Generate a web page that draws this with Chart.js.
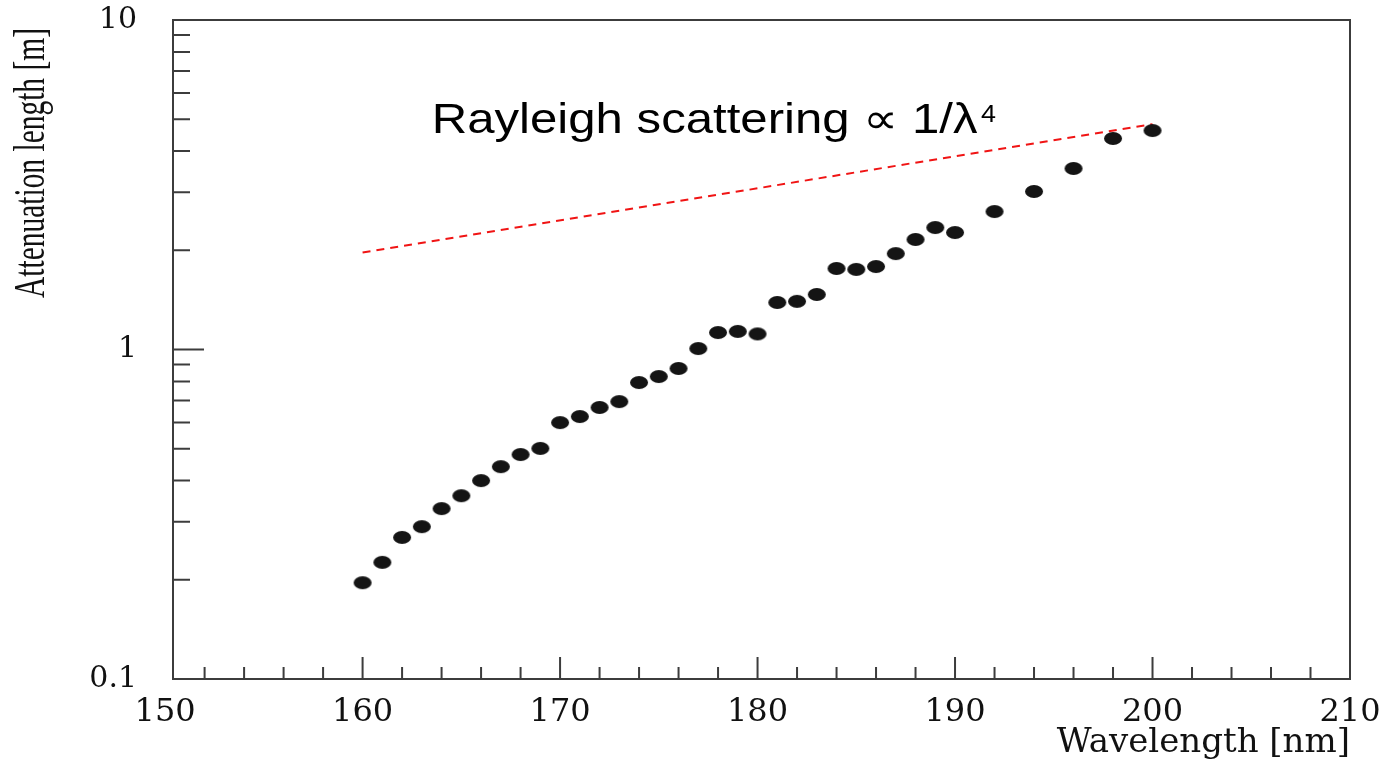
<!DOCTYPE html>
<html>
<head>
<meta charset="utf-8">
<script src="https://cdn.jsdelivr.net/npm/chart.js@4.4.1/dist/chart.umd.min.js"></script>
<style>
  html, body { margin: 0; padding: 0; background: #fff; }
  #wrap { width: 1384px; height: 760px; }
</style>
</head>
<body>
<div id="wrap"><canvas id="chart"></canvas></div>
<script>
// measured points (wavelength in nm, attenuation length in m)
const wavelengths = [160, 161, 162, 163, 164, 165, 166, 167, 168, 169,
  170, 171, 172, 173, 174, 175, 176, 177, 178, 179,
  180, 181, 182, 183, 184, 185, 186, 187, 188, 189,
  190, 192, 194, 196, 198, 200];
const attenuation = [0.196, 0.226, 0.269, 0.290, 0.329, 0.360, 0.400, 0.441, 0.480, 0.501,
  0.600, 0.626, 0.667, 0.695, 0.794, 0.828, 0.876, 1.007, 1.126, 1.135,
  1.115, 1.389, 1.400, 1.469, 1.762, 1.750, 1.786, 1.955, 2.157, 2.345,
  2.265, 2.623, 3.017, 3.543, 4.370, 4.620];

// Rayleigh 1/lambda^4 guide line
const rayleigh_x = [160, 200];
const rayleigh_y = [1.97, 4.83];

// axes
const x_ticks = [150, 152, 154, 156, 158, 160, 162, 164, 166, 168, 170, 172, 174, 176, 178, 180,
  182, 184, 186, 188, 190, 192, 194, 196, 198, 200, 202, 204, 206, 208, 210];
const x_labels = [150, 160, 170, 180, 190, 200, 210];
const y_ticks = [0.1, 0.2, 0.3, 0.4, 0.5, 0.6, 0.7, 0.8, 0.9, 1, 2, 3, 4, 5, 6, 7, 8, 9, 10];
const y_labels = [0.1, 1, 10];
const y_title = "Attenuation length [m]";

const note_text = "Rayleigh scattering \u221D 1/\u03BB";
const note_sup = "4";
const note_at = { x: 163.5, y: 4.55 };

const axis_color = "#3c3c3c";
const serif = "'DejaVu Serif', serif";

function isLabel(list, v) {
  return list.some(l => Math.abs(l - v) / l < 1e-6);
}

// filled ellipse marker, the dots in the picture are wider than tall
function makeDot() {
  const c = document.createElement("canvas");
  c.width = 20;
  c.height = 15;
  const g = c.getContext("2d");
  g.fillStyle = "#141414";
  g.beginPath();
  g.ellipse(10, 7.5, 9, 6.5, 0, 0, Math.PI * 2);
  g.fill();
  return c;
}

const framePlugin = {
  id: "frame",
  afterDatasetsDraw(chart) {
    const { ctx, chartArea: a, scales: { x, y } } = chart;
    ctx.save();
    ctx.strokeStyle = axis_color;
    ctx.lineWidth = 2;
    ctx.strokeRect(a.left, a.top, a.right - a.left, a.bottom - a.top);
    ctx.beginPath();
    x.ticks.forEach(t => {
      if (t.value < x.min || t.value > x.max) return;
      const px = x.getPixelForValue(t.value);
      const len = isLabel(x_labels, t.value) ? 22 : 12;
      ctx.moveTo(px, a.bottom);
      ctx.lineTo(px, a.bottom - len);
    });
    y.ticks.forEach(t => {
      if (t.value <= y.min || t.value >= y.max) return;
      const py = y.getPixelForValue(t.value);
      const len = isLabel(y_labels, t.value) ? 31 : 17;
      ctx.moveTo(a.left, py);
      ctx.lineTo(a.left + len, py);
    });
    ctx.stroke();
    ctx.restore();

    // y axis title, the source has it squeezed along its length
    ctx.save();
    ctx.fillStyle = "#111";
    ctx.font = "44px 'Liberation Serif', 'Times New Roman', serif";
    ctx.textBaseline = "alphabetic";
    ctx.translate(44, a.top + 278);
    ctx.rotate(-Math.PI / 2);
    ctx.scale(270 / ctx.measureText(y_title).width, 1);
    ctx.fillText(y_title, 0, 0);
    ctx.restore();

    // annotation text
    ctx.save();
    const tx = x.getPixelForValue(note_at.x);
    const ty = y.getPixelForValue(note_at.y);
    ctx.fillStyle = "#000";
    ctx.textBaseline = "alphabetic";
    ctx.translate(tx, ty);
    ctx.scale(1.17, 1);
    ctx.font = "42px 'Liberation Sans', Arial, sans-serif";
    ctx.fillText(note_text, 0, 0);
    const w = ctx.measureText(note_text).width;
    ctx.font = "23px 'Liberation Sans', Arial, sans-serif";
    ctx.fillText(note_sup, w + 3, -11);
    ctx.restore();
  }
};

new Chart(document.getElementById("chart"), {
  type: "scatter",
  data: {
    datasets: [{
      label: "data",
      data: wavelengths.map((w, i) => ({ x: w, y: attenuation[i] })),
      pointStyle: makeDot(),
      pointRadius: 9,
      showLine: false,
    }, {
      label: "rayleigh",
      type: "line",
      data: rayleigh_x.map((w, i) => ({ x: w, y: rayleigh_y[i] })),
      borderColor: "#f01414",
      borderWidth: 2,
      borderDash: [8, 6],
      pointRadius: 0,
      fill: false,
    }],
  },
  plugins: [framePlugin],
  options: {
    responsive: true,
    maintainAspectRatio: false,
    animation: false,
    devicePixelRatio: 1,
    layout: { padding: { left: 0, right: 34, top: 20, bottom: 0 } },
    plugins: {
      legend: { display: false },
      tooltip: { enabled: false },
    },
    scales: {
      x: {
        type: "linear",
        min: 150.4,
        max: 210,
        bounds: "data",
        grid: { display: false, drawTicks: false },
        border: { display: false },
        afterBuildTicks: s => { s.ticks = x_ticks.map(v => ({ value: v })); },
        afterFit: s => { s.height = 81; s.paddingLeft = 0; s.paddingRight = 0; },
        ticks: {
          autoSkip: false,
          maxRotation: 0,
          padding: 14,
          color: "#111",
          font: { family: serif, size: 32 },
          callback: v => isLabel(x_labels, v) ? String(v) : "",
        },
        title: {
          display: true,
          text: "Wavelength [nm]",
          align: "end",
          color: "#111",
          font: { family: serif, size: 34, lineHeight: 1 },
          padding: { top: 0, bottom: 0 },
        },
      },
      y: {
        type: "logarithmic",
        min: 0.1,
        max: 10,
        grid: { display: false, drawTicks: false },
        border: { display: false },
        afterBuildTicks: s => { s.ticks = y_ticks.map(v => ({ value: v })); },
        afterFit: s => { s.width = 173; s.paddingTop = 0; s.paddingBottom = 0; },
        ticks: {
          autoSkip: false,
          padding: 36,
          color: "#111",
          font: { family: serif, size: 30 },
          callback: v => isLabel(y_labels, v) ? String(v) : "",
        },
      },
    },
  },
});
</script>
</body>
</html>
